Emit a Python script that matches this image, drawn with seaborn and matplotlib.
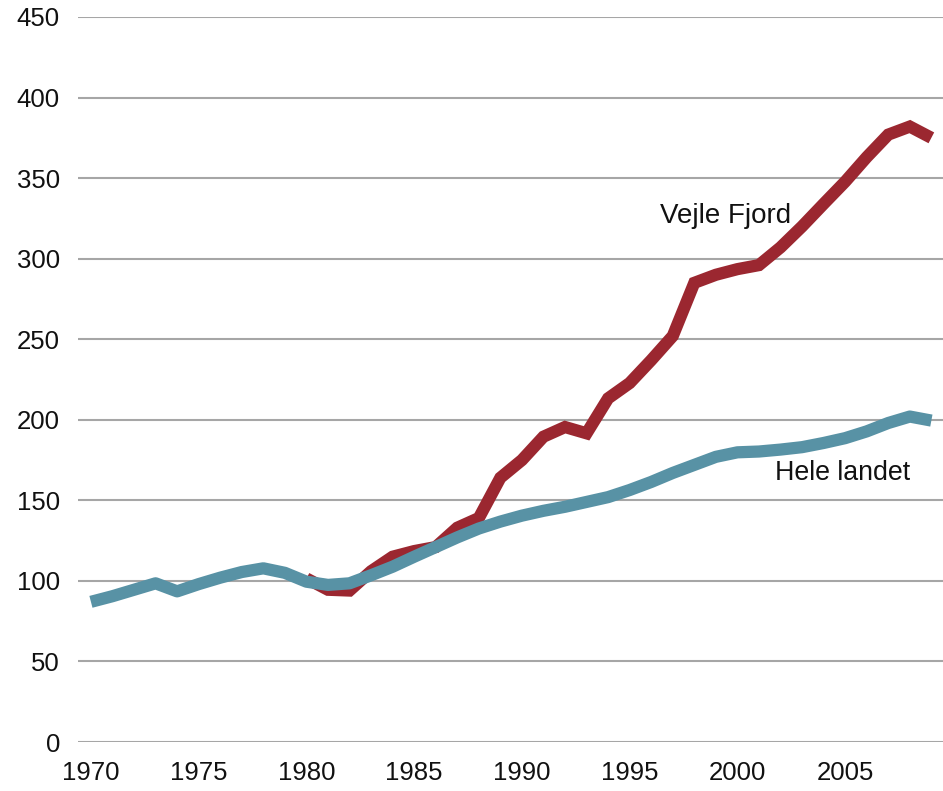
import matplotlib
matplotlib.use("Agg")
import matplotlib.pyplot as plt
import seaborn as sns
import pandas as pd

# ---- data ----
years_all = list(range(1970, 2010))
hele_landet = [87, 90.5, 94.5, 98.5, 93.5, 98, 102, 105.5, 107.8, 105,
               99.5, 97.5, 98.5, 103.5, 108.8, 115, 121, 127, 132.5, 136.8,
               140.5, 143.5, 146, 149, 152, 156.4, 161.4, 167, 172, 177,
               179.8, 180.3, 181.5, 183, 185.6, 188.6, 192.8, 198, 202, 199.5]

years_vejle = list(range(1980, 2010))
vejle_fjord = [101.5, 94.5, 94, 106, 115, 118.5, 121, 133, 139, 164,
               175, 189.5, 195.5, 191.6, 213.3, 222.8, 237, 252, 285, 290,
               293.5, 296, 307, 320, 334, 347.8, 363, 377, 382, 375]

x_ticks = [1970, 1975, 1980, 1985, 1990, 1995, 2000, 2005]
y_ticks = [0, 50, 100, 150, 200, 250, 300, 350, 400, 450]

label_vejle = "Vejle Fjord"
label_hele = "Hele landet"

# ---- styling ----
sns.set_style("white")
plt.rcParams['font.family'] = ['Liberation Sans', 'DejaVu Sans']

RED = "#9b2730"
BLUE = "#5892a5"
GRID = "#a6a6a6"

fig = plt.figure(figsize=(9.43, 7.91), dpi=100)
ax = fig.add_axes([78 / 943, 49 / 791, 865 / 943, 725 / 791])

df_hele = pd.DataFrame({"year": years_all, "value": hele_landet})
df_vejle = pd.DataFrame({"year": years_vejle, "value": vejle_fjord})

sns.lineplot(data=df_hele, x="year", y="value", ax=ax, color=BLUE,
             linewidth=8.8, solid_joinstyle="round", solid_capstyle="butt",
             zorder=3)
sns.lineplot(data=df_vejle, x="year", y="value", ax=ax, color=RED,
             linewidth=8.8, solid_joinstyle="miter", solid_capstyle="butt",
             zorder=2)

ax.set_xlim(1969.40, 2009.54)
ax.set_ylim(0, 450)
ax.set_xticks(x_ticks)
ax.set_xticklabels([str(t) for t in x_ticks])
ax.set_yticks(y_ticks)
ax.set_yticklabels([str(t) for t in y_ticks])
ax.set_xlabel("")
ax.set_ylabel("")

ax.yaxis.grid(True, color=GRID, linewidth=1.5, zorder=0)
ax.xaxis.grid(False)
ax.set_axisbelow(True)
for s in ax.spines.values():
    s.set_visible(False)

ax.tick_params(axis="both", length=0, labelsize=18.5, colors="#111111")
ax.tick_params(axis="y", pad=13)
ax.tick_params(axis="x", pad=14)

ax.text(1999.47, 322, label_vejle, ha="center", va="baseline",
        fontsize=20, color="#111111")
ax.text(2004.87, 162.6, label_hele, ha="center", va="baseline",
        fontsize=19.3, color="#111111")

fig.savefig("out.png", dpi=100, facecolor="white")
